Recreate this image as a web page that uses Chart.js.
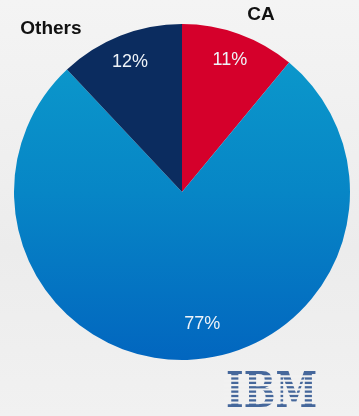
<!DOCTYPE html>
<html><head><meta charset="utf-8">
<script src="https://cdn.jsdelivr.net/npm/chart.js@4.4.1/dist/chart.umd.min.js"></script>
<style>
html,body{margin:0;padding:0;}
body{width:359px;height:416px;background:linear-gradient(#f4f4f4,#ececec 60%,#f1f1f1);overflow:hidden;}
#wrap{position:absolute;left:0;top:0;width:359px;height:416px;}
</style></head>
<body><div id="wrap"><canvas id="c" width="359" height="416"></canvas></div>
<script>
const categories = ["CA", "IBM", "Others"];
const shares = [11, 77, 12];
const valueLabels = ["11%", "77%", "12%"];
const outerLabels = ["CA", "", "Others"];
const sliceColors = ["#d5002b", "blue-gradient", "#0b2c5f"];

function sliceFill(context) {
  const i = context.dataIndex;
  if (sliceColors[i] !== "blue-gradient") return sliceColors[i];
  const chart = context.chart;
  const a = chart.chartArea;
  if (!a) return "#0a84c6";
  const g = chart.ctx.createLinearGradient(0, a.top, 0, a.bottom);
  g.addColorStop(0, "#0c9ccc");
  g.addColorStop(0.5, "#0786c6");
  g.addColorStop(1, "#0266bf");
  return g;
}

const labelPlugin = {
  id: "labels",
  afterDatasetsDraw(chart) {
    const ctx = chart.ctx;
    const meta = chart.getDatasetMeta(0);
    ctx.save();
    meta.data.forEach((arc, i) => {
      const p = arc.getProps(["x","y","startAngle","endAngle","outerRadius"], true);
      let mid = (p.startAngle + p.endAngle) / 2;
      let rf = 0.84;
      if (i === 1) { mid -= 7 * Math.PI / 180; rf = 0.79; }
      const x = p.x + Math.cos(mid) * p.outerRadius * rf;
      const y = p.y + Math.sin(mid) * p.outerRadius * rf;
      ctx.fillStyle = "#eef3f8";
      ctx.font = "18px 'Liberation Sans', Arial, sans-serif";
      ctx.textAlign = "center";
      ctx.textBaseline = "middle";
      ctx.fillText(valueLabels[i], x, y + 1);
      if (outerLabels[i]) {
        const ox = p.x + Math.cos(mid) * p.outerRadius * 1.02 + (i === 0 ? 21 : -68);
        const oy = p.y + Math.sin(mid) * p.outerRadius * 1.02 + (i === 0 ? -16 : -4);
        ctx.fillStyle = "#111";
        ctx.font = "bold 19px 'Liberation Sans', Arial, sans-serif";
        ctx.fillText(outerLabels[i], ox, oy);
      }
    });
    // IBM logo, fitted into box
    const bx = 227, by = 372, bw = 89, bh = 35;
    ctx.font = "bold 40px 'DejaVu Serif', 'Liberation Serif', serif";
    ctx.textAlign = "left";
    ctx.textBaseline = "alphabetic";
    const m = ctx.measureText("IBM");
    const tw = m.actualBoundingBoxLeft + m.actualBoundingBoxRight;
    const th = m.actualBoundingBoxAscent + m.actualBoundingBoxDescent;
    ctx.save();
    ctx.translate(bx, by);
    ctx.scale(bw / tw, bh / th);
    ctx.fillStyle = "#45679b";
    ctx.fillText("IBM", m.actualBoundingBoxLeft, m.actualBoundingBoxAscent);
    ctx.restore();
    ctx.fillStyle = "#f1f1f1";
    const period = bh / 8;
    for (let k = 0; k < 7; k++) {
      ctx.fillRect(bx - 3, by + (k + 1) * period - 1.1, bw + 6, 2.1);
    }
    ctx.restore();
  }
};

new Chart(document.getElementById("c"), {
  type: "pie",
  data: {
    labels: categories,
    datasets: [{ data: shares, backgroundColor: sliceFill, borderWidth: 0, hoverOffset: 0 }]
  },
  options: {
    responsive: false,
    animation: false,
    rotation: 0,
    layout: { padding: { left: 14, right: 9, top: 24, bottom: 56 } },
    plugins: { legend: { display: false }, tooltip: { enabled: false } }
  },
  plugins: [labelPlugin]
});
</script></body></html>
